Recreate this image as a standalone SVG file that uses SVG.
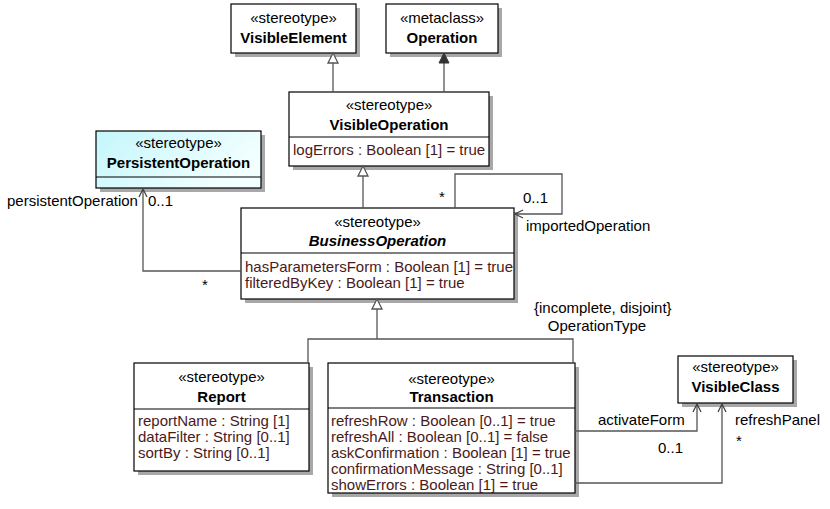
<svg xmlns="http://www.w3.org/2000/svg" width="830" height="509" viewBox="0 0 830 509">
<style>
text{font-family:"Liberation Sans",Arial,sans-serif;font-size:15px;fill:#000}
.c{text-anchor:middle}
.b{font-weight:bold}
.bi{font-weight:bold;font-style:italic}
.a{fill:#4a1a1a}
.box{fill:#fff;stroke:#000;stroke-width:1.2}
.sh{fill:#a8a8a8}
.dv{stroke:#000;stroke-width:1.2}
.ln{fill:none;stroke:#555;stroke-width:1.3}
.gen{fill:#fff;stroke:#555;stroke-width:1.3}
.ext{fill:#333;stroke:#333;stroke-width:1}
</style>
<defs>
<linearGradient id="cy" x1="0" y1="0" x2="1" y2="0.4">
<stop offset="0" stop-color="#c4f6fb"/>
<stop offset="1" stop-color="#f2ffff"/>
</linearGradient>
<marker id="open" viewBox="0 0 10 10" refX="9" refY="5" markerWidth="10" markerHeight="10" markerUnits="userSpaceOnUse" orient="auto">
<path d="M1,1 L9,5 L1,9" fill="none" stroke="#444" stroke-width="1.3"/>
</marker>
</defs>

<g id="VisibleElement">
<rect class="sh" x="235" y="8" width="125" height="49"/>
<rect class="box" x="231" y="4" width="125" height="49"/>
<text class="c" x="293.5" y="23">«stereotype»</text>
<text class="c b" x="293.5" y="43">VisibleElement</text>
</g>

<g id="Operation">
<rect class="sh" x="390" y="8" width="112" height="49"/>
<rect class="box" x="386" y="4" width="112" height="49"/>
<text class="c" x="442" y="23">«metaclass»</text>
<text class="c b" x="442" y="43">Operation</text>
</g>

<g id="VisibleOperation">
<rect class="sh" x="293" y="96" width="200" height="74"/>
<rect class="box" x="289" y="92" width="200" height="74"/>
<line class="dv" x1="289" y1="137" x2="489" y2="137"/>
<text class="c" x="389" y="110">«stereotype»</text>
<text class="c b" x="389" y="130">VisibleOperation</text>
<text class="a" x="293" y="155">logErrors : Boolean [1] = true</text>
</g>

<g id="PersistentOperation">
<rect class="sh" x="100" y="135" width="165" height="57"/>
<rect x="96" y="131" width="165" height="57" fill="url(#cy)" stroke="#000" stroke-width="1.2"/>
<line class="dv" x1="96" y1="177" x2="261" y2="177"/>
<text class="c" x="178.5" y="148">«stereotype»</text>
<text class="c b" x="178.5" y="168">PersistentOperation</text>
</g>

<g id="BusinessOperation">
<rect class="sh" x="245" y="212" width="273" height="91"/>
<rect class="box" x="241" y="208" width="273" height="91"/>
<line class="dv" x1="241" y1="253" x2="514" y2="253"/>
<text class="c" x="377.5" y="227">«stereotype»</text>
<text class="c bi" x="377.5" y="246">BusinessOperation</text>
<text class="a" x="245" y="272">hasParametersForm : Boolean [1] = true</text>
<text class="a" x="245" y="288">filteredByKey : Boolean [1] = true</text>
</g>

<g id="Report">
<rect class="sh" x="138" y="367" width="175" height="108"/>
<rect class="box" x="134" y="363" width="175" height="108"/>
<line class="dv" x1="134" y1="409" x2="309" y2="409"/>
<text class="c" x="221.5" y="382">«stereotype»</text>
<text class="c b" x="221.5" y="402">Report</text>
<text class="a" x="138" y="426">reportName : String [1]</text>
<text class="a" x="138" y="442">dataFilter : String [0..1]</text>
<text class="a" x="138" y="458">sortBy : String [0..1]</text>
</g>

<g id="Transaction">
<rect class="sh" x="332" y="367" width="247" height="130"/>
<rect class="box" x="328" y="363" width="247" height="130"/>
<line class="dv" x1="328" y1="408" x2="575" y2="408"/>
<text class="c" x="451.5" y="384">«stereotype»</text>
<text class="c b" x="451.5" y="402">Transaction</text>
<text class="a" x="331" y="426">refreshRow : Boolean [0..1] = true</text>
<text class="a" x="331" y="442">refreshAll : Boolean [0..1] = false</text>
<text class="a" x="331" y="458">askConfirmation : Boolean [1] = true</text>
<text class="a" x="331" y="474">confirmationMessage : String [0..1]</text>
<text class="a" x="331" y="490">showErrors : Boolean [1] = true</text>
</g>

<g id="VisibleClass">
<rect class="sh" x="682" y="360" width="115" height="47"/>
<rect class="box" x="678" y="356" width="115" height="47"/>
<text class="c" x="735.5" y="372">«stereotype»</text>
<text class="c b" x="735.5" y="392">VisibleClass</text>
</g>

<g id="connectors">
<!-- VisibleOperation -> VisibleElement -->
<line class="ln" x1="333" y1="92" x2="333" y2="63"/>
<path class="gen" d="M333,53 L338,63 L328,63 Z"/>
<!-- VisibleOperation -> Operation (extension) -->
<line class="ln" x1="444" y1="92" x2="444" y2="63"/>
<path class="ext" d="M444,53 L449,63 L439,63 Z"/>
<!-- BusinessOperation -> VisibleOperation -->
<line class="ln" x1="363" y1="208" x2="363" y2="176"/>
<path class="gen" d="M363,166 L368,176 L358,176 Z"/>
<!-- Report/Transaction -> BusinessOperation -->
<polyline class="ln" points="308,363 308,339 573,339 573,363"/>
<line class="ln" x1="377" y1="339" x2="377" y2="309"/>
<path class="gen" d="M377,299 L382,309 L372,309 Z"/>
<!-- persistentOperation -->
<polyline class="ln" points="241,271 143,271 143,189" marker-end="url(#open)"/>
<!-- importedOperation self association -->
<polyline class="ln" points="455,208 455,174 562,174 562,214 515,214" marker-end="url(#open)"/>
<!-- activateForm -->
<polyline class="ln" points="575,431 697,431 697,404" marker-end="url(#open)"/>
<!-- refreshPanel -->
<polyline class="ln" points="575,483 722,483 722,404" marker-end="url(#open)"/>
</g>

<g id="labels">
<text x="7" y="206">persistentOperation</text>
<text x="148" y="206">0..1</text>
<text x="202" y="290">*</text>
<text x="439" y="202">*</text>
<text x="523" y="203">0..1</text>
<text x="526" y="231">importedOperation</text>
<text x="534" y="313">{incomplete, disjoint}</text>
<text class="c" x="597" y="331">OperationType</text>
<text x="598" y="425">activateForm</text>
<text x="658" y="453">0..1</text>
<text x="735" y="425">refreshPanel</text>
<text x="736" y="446">*</text>
</g>
</svg>
